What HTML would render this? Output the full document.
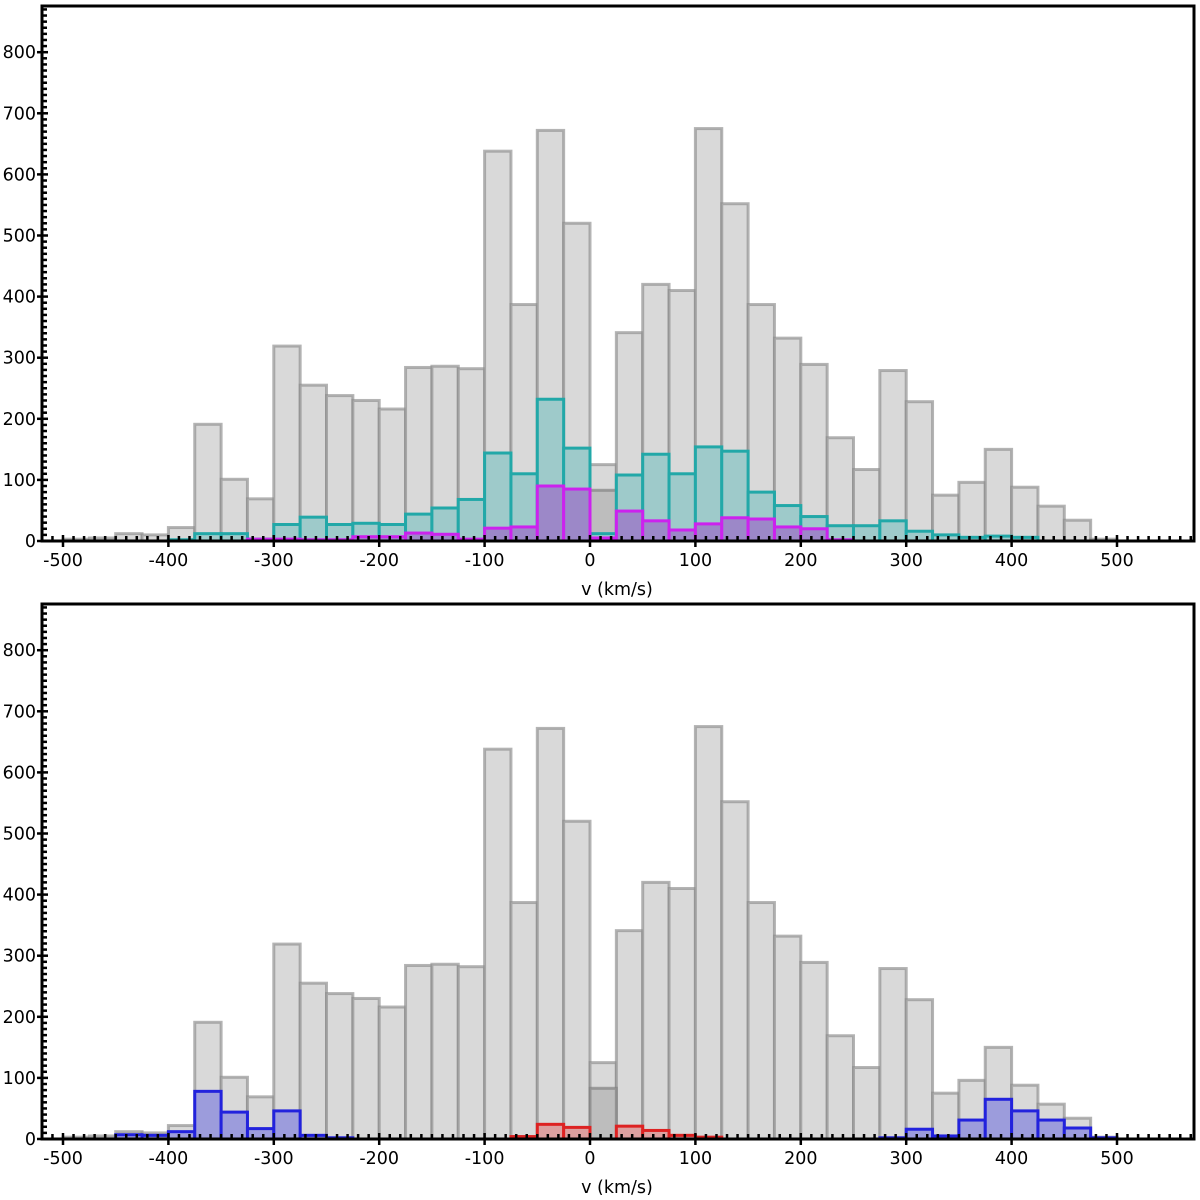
<!DOCTYPE html>
<html><head><meta charset="utf-8"><style>
html,body{margin:0;padding:0;background:#fff;}
svg text{font-family:"DejaVu Sans","Liberation Sans",sans-serif;}
</style></head><body>
<svg id="chart" width="1200" height="1195" xmlns="http://www.w3.org/2000/svg"></svg>
<script>
const binStarts = [-500,-475,-450,-425,-400,-375,-350,-325,-300,-275,-250,-225,-200,-175,-150,-125,-100,-75,-50,-25,0,25,50,75,100,125,150,175,200,225,250,275,300,325,350,375,400,425,450,475];
const totalCounts = [3,5,12,10,22,191,101,69,319,255,238,230,216,284,286,282,638,387,672,520,125,341,420,410,675,552,387,332,289,169,117,279,228,75,96,150,88,57,34,3];
const darkCounts = [0,0,0,0,0,0,0,0,0,0,0,0,0,0,0,0,0,0,0,0,83,0,0,0,0,0,0,0,0,0,0,0,0,0,0,0,0,0,0,0];
const tealCounts = [0,0,0,0,2,12,12,3,27,39,27,29,27,44,54,68,144,110,232,152,12,108,142,110,154,147,80,58,40,25,25,33,16,10,6,8,6,0,0,0];
const purpleCounts = [0,0,0,0,0,0,0,3,3,2,2,7,7,13,11,3,21,23,90,85,5,49,33,18,28,38,36,23,20,2,0,0,0,0,0,0,0,0,0,0];
const blueCounts = [0,0,7,6,12,78,44,17,46,6,2,0,0,0,0,0,0,0,0,0,0,0,0,0,0,0,0,0,0,0,0,2,16,5,31,65,46,31,18,2];
const redCounts = [0,0,0,0,0,0,0,0,0,0,0,0,0,0,0,0,0,4,24,19,0,21,14,6,3,0,0,0,0,0,0,0,0,0,0,0,0,0,0,0];
const xTicks = [-500,-400,-300,-200,-100,0,100,200,300,400,500];
const yTicks = [0,100,200,300,400,500,600,700,800];
const binWidth = 25;

const svg = document.getElementById('chart');
const NS = 'http://www.w3.org/2000/svg';
function mk(tag, attrs, parent){const e=document.createElementNS(NS,tag);for(const k in attrs)e.setAttribute(k,attrs[k]);(parent||svg).appendChild(e);return e;}

const L=42,R=1194;
const xScale = v => 590 + v*1.054;
const panels = [
 {top:6,bottom:541,name:'top-panel',series:[
   {d:totalCounts,fill:'#d9d9d9',stroke:'rgba(140,140,140,0.65)',n:'all'},
   {d:darkCounts,fill:'#bdbdbd',stroke:'rgba(130,130,130,0.7)',n:'dark'},
   {d:tealCounts,fill:'#9ecaca',stroke:'#22a8a8',n:'teal'},
   {d:purpleCounts,fill:'#9c88c8',stroke:'#cc22ee',n:'purple'}]},
 {top:604,bottom:1139,name:'bottom-panel',series:[
   {d:totalCounts,fill:'#d9d9d9',stroke:'rgba(140,140,140,0.65)',n:'all'},
   {d:darkCounts,fill:'#bdbdbd',stroke:'rgba(130,130,130,0.7)',n:'dark'},
   {d:blueCounts,fill:'#9c9cdc',stroke:'#2222dd',n:'blue'},
   {d:redCounts,fill:'#dca0a0',stroke:'#dd2222',n:'red'}]}
];
panels.forEach(p=>{
  const g=mk('g',{});
  
  
  const yS = c => p.bottom - c*0.611;
  p.series.forEach(s=>{
    s.d.forEach((c,i)=>{
      if(c<=0) return;
      const x0=xScale(binStarts[i]), x1=xScale(binStarts[i]+binWidth);
      const r=mk('rect',{x:x0,y:yS(c),width:x1-x0,height:p.bottom-yS(c),fill:s.fill,stroke:s.stroke,'stroke-width':3},g);
      
      
    });
  });
  for(let v=-520;v<=570;v+=10){
    if(v%100===0) continue;
    const x=xScale(v); if(x<L||x>R) continue;
    mk('line',{x1:x,x2:x,y1:p.bottom,y2:p.bottom-5,stroke:'#000','stroke-width':2.5},g);
  }
  for(let c=10;c<875;c+=10){
    if(c%100===0) continue;
    const y=yS(c);
    mk('line',{x1:L,x2:L+5,y1:y,y2:y,stroke:'#000','stroke-width':2.5},g);
  }
  xTicks.forEach(v=>{
    const x=xScale(v);
    mk('line',{x1:x,x2:x,y1:p.bottom-6,y2:p.bottom+6,stroke:'#000','stroke-width':2.5},g);
    const t=mk('text',{x:x,y:p.bottom+25,'text-anchor':'middle','font-size':17.5},g);
    t.textContent=v;
    
    
  });
  yTicks.forEach(c=>{
    const y=yS(c);
    mk('line',{x1:L-5,x2:L+6,y1:y,y2:y,stroke:'#000','stroke-width':2.5},g);
    const t=mk('text',{x:L-6,y:y+6,'text-anchor':'end','font-size':17.5},g);
    t.textContent=c;
    
    
  });
  const f=mk('rect',{x:L,y:p.top,width:R-L,height:p.bottom-p.top,fill:'none',stroke:'#000','stroke-width':3},g);
  
  
  const xl=mk('text',{x:617,y:p.bottom+54,'text-anchor':'middle','font-size':17.5},g);
  xl.textContent='v (km/s)';
  
  
});
</script>
</body></html>
